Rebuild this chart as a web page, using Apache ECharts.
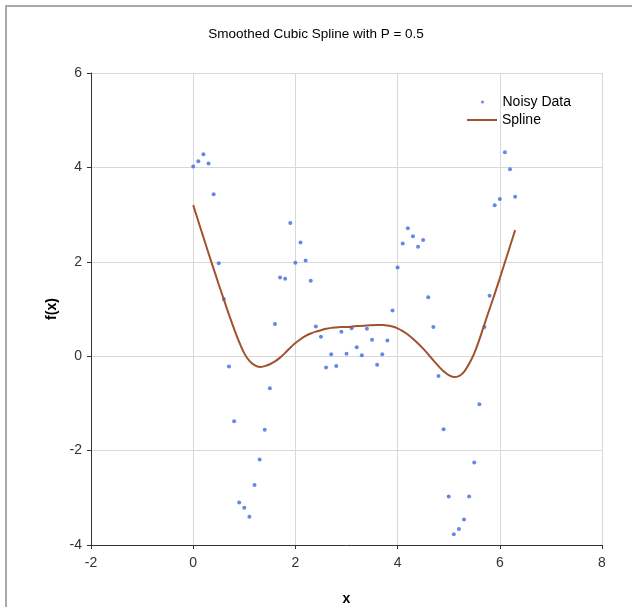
<!DOCTYPE html>
<html>
<head>
<meta charset="utf-8">
<script src="https://cdn.jsdelivr.net/npm/echarts@6/dist/echarts.min.js"></script>
<style type="text/css">
  html, body { margin:0; padding:0; background:#fff; }
  #frame { position:absolute; left:5px; top:5px; width:640px; height:620px; border-left:2px solid #aaa; border-top:2px solid #aaa; }
  #chart { position:absolute; left:0; top:0; width:632px; height:607px; }
</style>
</head>
<body>
<div id="frame"></div>
<div id="chart"></div>
<script type="text/javascript">
  // noisy samples, x = 0 .. 6.3
  var dataX = [0, 0.1, 0.2, 0.3, 0.4, 0.5, 0.6, 0.7, 0.8, 0.9,
               1.0, 1.1, 1.2, 1.3, 1.4, 1.5, 1.6, 1.7, 1.8, 1.9,
               2.0, 2.1, 2.2, 2.3, 2.4, 2.5, 2.6, 2.7, 2.8, 2.9,
               3.0, 3.1, 3.2, 3.3, 3.4, 3.5, 3.6, 3.7, 3.8, 3.9,
               4.0, 4.1, 4.2, 4.3, 4.4, 4.5, 4.6, 4.7, 4.8, 4.9,
               5.0, 5.1, 5.2, 5.3, 5.4, 5.5, 5.6, 5.7, 5.8, 5.9,
               6.0, 6.1, 6.2, 6.3];
  var dataY = [4.02, 4.13, 4.28, 4.08, 3.43, 1.97, 1.21, -0.22, -1.38, -3.1,
               -3.21, -3.4, -2.73, -2.19, -1.56, -0.68, 0.68, 1.67, 1.64, 2.82,
               1.98, 2.41, 2.03, 1.6, 0.63, 0.41, -0.24, 0.04, -0.21, 0.52,
               0.05, 0.59, 0.19, 0.02, 0.58, 0.35, -0.18, 0.04, 0.33, 0.97,
               1.88, 2.39, 2.71, 2.54, 2.32, 2.46, 1.25, 0.62, -0.42, -1.55,
               -2.97, -3.77, -3.66, -3.46, -2.97, -2.25, -1.02, 0.62, 1.28, 3.2,
               3.33, 4.32, 3.96, 3.38];
  // smoothed spline
  var splineX = [0, 0.1, 0.2, 0.3, 0.4, 0.5, 0.6, 0.7, 0.8, 0.9,
                 1.0, 1.1, 1.2, 1.3, 1.4, 1.5, 1.6, 1.7, 1.8, 1.9,
                 2.0, 2.1, 2.2, 2.3, 2.4, 2.5, 2.6, 2.7, 2.8, 2.9,
                 3.0, 3.2, 3.4, 3.6, 3.7, 3.8, 3.9,
                 4.0, 4.1, 4.2, 4.3, 4.4, 4.5, 4.6, 4.7, 4.8, 4.9,
                 5.0, 5.1, 5.2, 5.3, 5.4, 5.5, 5.6, 5.7, 5.8, 5.9,
                 6.0, 6.1, 6.2, 6.3];
  var splineY = [3.2, 2.86, 2.52, 2.18, 1.85, 1.52, 1.2, 0.88, 0.58, 0.3,
                 0.06, -0.1, -0.19, -0.23, -0.21, -0.17, -0.11, -0.03, 0.07, 0.18,
                 0.28, 0.36, 0.43, 0.48, 0.52, 0.55, 0.58, 0.6, 0.61, 0.62,
                 0.62, 0.64, 0.65, 0.66, 0.66, 0.65, 0.63,
                 0.59, 0.53, 0.46, 0.37, 0.27, 0.16, 0.04, -0.09, -0.21, -0.32,
                 -0.4, -0.44, -0.42, -0.33, -0.16, 0.06, 0.35, 0.68, 1.0, 1.32,
                 1.65, 1.99, 2.33, 2.67];
  var xTicks = [-2, 8, 2];
  var yTicks = [-4, 6, 2];

  var points = [];
  for (var i = 0; i < dataX.length; i++) { points.push([dataX[i], dataY[i]]); }
  var curve = [];
  for (var i = 0; i < splineX.length; i++) { curve.push([splineX[i], splineY[i]]); }

  var font = 'Liberation Sans, Arial, sans-serif';
  var myChart = echarts.init(document.getElementById('chart'));
  myChart.setOption({
    animation: false,
    title: {
      text: 'Smoothed Cubic Spline with P = 0.5',
      left: 'center',
      top: 22,
      textStyle: { fontSize: 13.5, fontWeight: 'normal', color: '#000', fontFamily: font }
    },
    legend: [
      {
        data: ['Noisy Data'], left: 476, top: 90, itemWidth: 30, itemHeight: 3,
        textStyle: { fontSize: 14, color: '#000', fontFamily: font }
      },
      {
        data: [{ name: 'Spline', icon: 'rect' }], left: 462, top: 108, itemWidth: 30, itemHeight: 2,
        textStyle: { fontSize: 14, color: '#000', fontFamily: font }
      }
    ],
    grid: { left: 91, right: 30, top: 73, bottom: 62, outerBoundsMode: 'none' },
    xAxis: {
      type: 'value', min: xTicks[0], max: xTicks[1], interval: xTicks[2],
      name: 'x', nameLocation: 'middle', nameGap: 47,
      nameTextStyle: { fontSize: 14, fontWeight: 'bold', color: '#000', fontFamily: font },
      axisLine: { onZero: false, lineStyle: { color: '#333', width: 1 } },
      axisTick: { show: true, length: 4, lineStyle: { color: '#333' } },
      axisLabel: { fontSize: 14, color: '#333', margin: 11, fontFamily: font },
      splitLine: { lineStyle: { color: '#d8d8d8' } }
    },
    yAxis: {
      type: 'value', min: yTicks[0], max: yTicks[1], interval: yTicks[2],
      name: 'f(x)', nameLocation: 'middle', nameGap: 28, nameRotate: 90,
      nameTextStyle: { fontSize: 14, fontWeight: 'bold', color: '#000', fontFamily: font },
      axisLine: { show: true, onZero: false, lineStyle: { color: '#333', width: 1 } },
      axisTick: { show: true, length: 4, lineStyle: { color: '#333' } },
      axisLabel: { fontSize: 14, color: '#333', margin: 9, fontFamily: font },
      splitLine: { lineStyle: { color: '#d8d8d8' } }
    },
    series: [
      {
        name: 'Noisy Data',
        type: 'scatter',
        data: points,
        symbolSize: 4,
        itemStyle: { color: '#4169E1' }
      },
      {
        name: 'Spline',
        type: 'line',
        data: curve,
        smooth: 0.3,
        symbol: 'none',
        lineStyle: { color: '#A0522D', width: 2 },
        itemStyle: { color: '#A0522D' }
      }
    ]
  });
</script>
</body>
</html>
